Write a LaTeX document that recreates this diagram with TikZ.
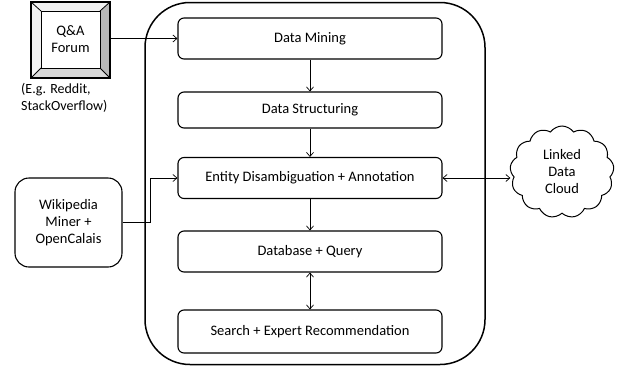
\documentclass[tikz,border=0pt]{standalone}
\usepackage{fontspec}
\setmainfont{Carlito}
\usetikzlibrary{shapes.symbols,arrows.meta}
\begin{document}
\begin{tikzpicture}[x=1pt,y=-1pt,
  stage/.style={draw,line width=1.1pt,rounded corners=6pt,minimum width=264pt,minimum height=41pt,font=\fontsize{14.5}{17}\selectfont,anchor=center},
  conn/.style={line width=0.7pt,-{Straight Barb[length=4pt,width=7pt]}},
  lbl/.style={font=\fontsize{14.5}{17}\selectfont,align=center}]
\useasboundingbox (0,0) rectangle (628,375);
% outer container
\node[draw,line width=1.5pt,rounded corners=45pt,minimum width=340pt,minimum height=362pt] (outer) at (315,183.5) {};
% stages
\node[stage] (dm) at (310,38.5) {Data Mining};
\node[stage,minimum height=36pt] (ds) at (310,110) {Data Structuring};
\node[stage] (ed) at (310,178) {Entity Disambiguation + Annotation};
\node[stage] (db) at (310,251.5) {Database + Query};
\node[stage,minimum height=43pt] (se) at (310,331.5) {Search + Expert Recommendation};
% Q&A forum bevel box
\fill[gray!10] (31,2) -- (110,2) -- (100,11) -- (41,11) -- cycle;
\fill[gray!10] (31,2) -- (41,11) -- (41,68) -- (31,78) -- cycle;
\fill[gray!55] (110,2) -- (110,78) -- (100,68) -- (100,11) -- cycle;
\fill[gray!30] (31,78) -- (110,78) -- (100,68) -- (41,68) -- cycle;
\draw[line width=1.1pt] (31,2) rectangle (110,78);
\draw[line width=0.8pt] (41,11) rectangle (100,68);
\draw[line width=0.8pt] (31,2) -- (41,11) (110,2) -- (100,11) (31,78) -- (41,68) (110,78) -- (100,68);
\node[lbl,minimum width=59pt,minimum height=57pt] (qa) at (70.5,39.5) {Q\&A\\Forum};
\coordinate (qaR) at (110,38.5);
\node[font=\fontsize{14}{17}\selectfont,align=left,anchor=north west,inner sep=0pt] (eg) at (21,83) {(E.g. Reddit,\\StackOverflow)};
% Wikipedia box
\node[draw,line width=1.1pt,rounded corners=14pt,minimum width=107pt,minimum height=89pt,lbl] (wk) at (68.5,222.5) {Wikipedia\\Miner +\\OpenCalais};
% cloud
\node[cloud,draw,line width=1pt,cloud puffs=13,cloud puff arc=110,aspect=1.1,minimum width=104pt,minimum height=92pt,lbl,inner sep=0pt] (cl) at (562,172) {Linked\\Data\\Cloud};
% connectors
\draw[conn] (qaR) -- (dm.west |- qaR);
\draw[conn] (dm) -- (ds);
\draw[conn] (ds) -- (ed);
\draw[conn] (wk.east |- 0,222) -| (150,178) -- (ed.west);
\draw[conn,{Straight Barb[length=4pt,width=7pt]}-{Straight Barb[length=4pt,width=7pt]}] (ed.east) -- (cl.west |- ed.east);
\draw[conn] (ed) -- (db);
\draw[conn,{Straight Barb[length=4pt,width=7pt]}-{Straight Barb[length=4pt,width=7pt]}] (db) -- (se);
\end{tikzpicture}
\end{document}
